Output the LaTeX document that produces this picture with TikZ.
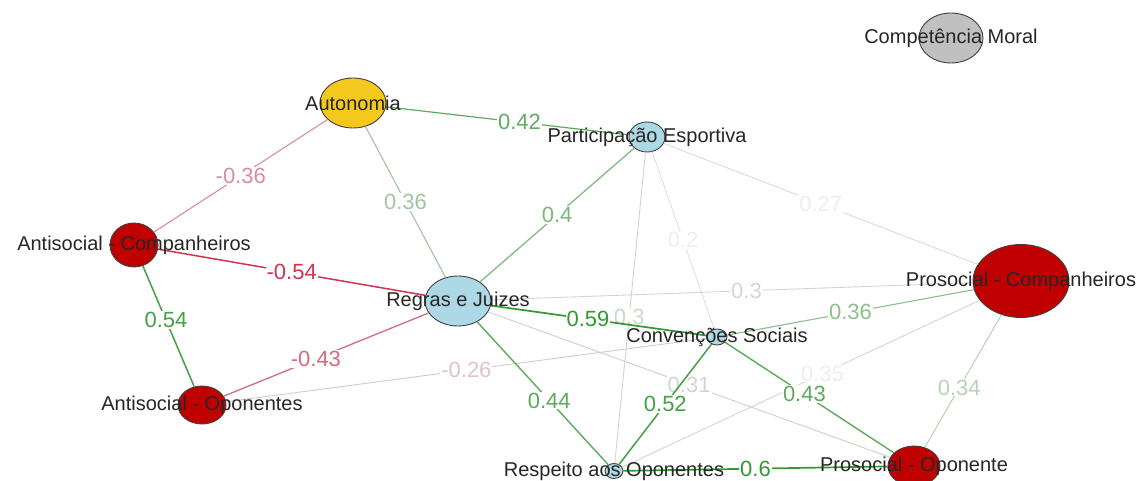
\documentclass[tikz,border=0pt]{standalone}
\usepackage{fontspec}
\setmainfont{Liberation Sans}
\usetikzlibrary{shapes.geometric}

\definecolor{nodered}{RGB}{192,0,0}
\definecolor{nodeblue}{RGB}{173,216,230}
\definecolor{nodeyellow}{RGB}{245,200,30}
\definecolor{nodegray}{RGB}{192,192,192}
\definecolor{posgreen}{RGB}{40,150,40}
\definecolor{negred}{RGB}{205,30,60}
\definecolor{faint}{RGB}{225,225,225}

\tikzset{
  var/.style={ellipse, draw=black!75, line width=0.9pt, inner sep=0pt},
  vlab/.style={font=\fontsize{20}{20}\selectfont, text=black!85},
  gedge/.style 2 args={color=posgreen!#1!faint, line width=#2},
  redge/.style 2 args={color=negred!#1!faint, line width=#2},
  elab/.style={fill=white, inner sep=1pt, font=\fontsize{22}{22}\selectfont},
  dim/.style={text=white!45!faint}
}

\begin{document}
\begin{tikzpicture}[x=1pt,y=-1pt]
  \useasboundingbox (0,0) rectangle (1137,481);
  \fill[white] (0,0) rectangle (1137,481);

  \node[var, fill=nodegray, minimum width=64pt, minimum height=50pt] (moral) at (951,38) {};
  \node[var, fill=nodeyellow, minimum width=66pt, minimum height=50pt] (aut) at (353,103) {};
  \node[var, fill=nodeblue, minimum width=36pt, minimum height=30pt] (part) at (647,137) {};
  \node[var, fill=nodered, minimum width=48pt, minimum height=44pt] (antic) at (134,245) {};
  \node[var, fill=nodeblue, minimum width=66pt, minimum height=50pt] (regras) at (458,301) {};
  \node[var, fill=nodered, minimum width=96pt, minimum height=73pt] (prosc) at (1021,281) {};
  \node[var, fill=nodeblue, minimum width=20pt, minimum height=16pt] (conv) at (717,337) {};
  \node[var, fill=nodered, minimum width=48pt, minimum height=38pt] (antio) at (202,405) {};
  \node[var, fill=nodeblue, minimum width=18pt, minimum height=15pt] (resp) at (614,471) {};
  \node[var, fill=nodered, minimum width=52pt, minimum height=40pt] (proso) at (914,466) {};

  \draw[gedge={3}{0.8pt}] (part) -- node[elab, dim] {0.2} (conv);
  \draw[gedge={6}{0.9pt}] (part) -- node[elab, dim] {0.27} (prosc);
  \draw[gedge={12}{0.9pt}] (part) -- node[elab, pos=0.53] {0.3} (resp);
  \draw[gedge={10}{0.9pt}] (regras) -- node[elab, pos=0.53] {0.3} (prosc);
  \draw[gedge={12}{1pt}] (regras) -- node[elab] {0.31} (proso);
  \draw[gedge={22}{1pt}] (prosc) -- node[elab, pos=0.55] {0.34} (proso);
  \draw[gedge={8}{1pt}] (resp) -- node[elab, pos=0.56, dim] {0.35} (prosc);
  \draw[redge={15}{0.9pt}] (antio) -- node[elab] {-0.26} (conv);
  \draw[gedge={35}{1.1pt}] (aut) -- node[elab] {0.36} (regras);
  \draw[gedge={45}{1.1pt}] (conv) -- node[elab] {0.36} (prosc);
  \draw[redge={42}{1.1pt}] (aut) -- node[elab] {-0.36} (antic);
  \draw[gedge={55}{1.2pt}] (part) -- node[elab] {0.4} (regras);
  \draw[gedge={70}{1.2pt}] (aut) -- node[elab, pos=0.55] {0.42} (part);
  \draw[redge={60}{1.3pt}] (antio) -- node[elab, pos=0.45] {-0.43} (regras);
  \draw[gedge={72}{1.4pt}] (conv) -- node[elab, pos=0.47] {0.43} (proso);
  \draw[gedge={72}{1.4pt}] (regras) -- node[elab, pos=0.55] {0.44} (resp);
  \draw[gedge={85}{1.5pt}] (conv) -- node[elab] {0.52} (resp);
  \draw[gedge={85}{1.5pt}] (antic) -- node[elab, pos=0.45] {0.54} (antio);
  \draw[redge={88}{1.5pt}] (antic) -- node[elab] {-0.54} (regras);
  \draw[gedge={95}{1.7pt}] (regras) -- node[elab, pos=0.45] {0.59} (conv);
  \draw[gedge={95}{1.7pt}] (resp) -- node[elab] {0.6} (proso);

  \node[vlab] (moral-t) at (moral) {Competência Moral};
  \node[vlab] (aut-t) at (aut) {Autonomia};
  \node[vlab] (part-t) at (part) {Participação Esportiva};
  \node[vlab] (antic-t) at (antic) {Antisocial - Companheiros};
  \node[vlab] (regras-t) at (regras) {Regras e Juizes};
  \node[vlab] (prosc-t) at (prosc) {Prosocial - Companheiros};
  \node[vlab] (conv-t) at (conv) {Convenções Sociais};
  \node[vlab] (antio-t) at (antio) {Antisocial - Oponentes};
  \node[vlab] (resp-t) at (resp) {Respeito aos Oponentes};
  \node[vlab] (proso-t) at (proso) {Prosocial - Oponente};
\end{tikzpicture}
\end{document}
